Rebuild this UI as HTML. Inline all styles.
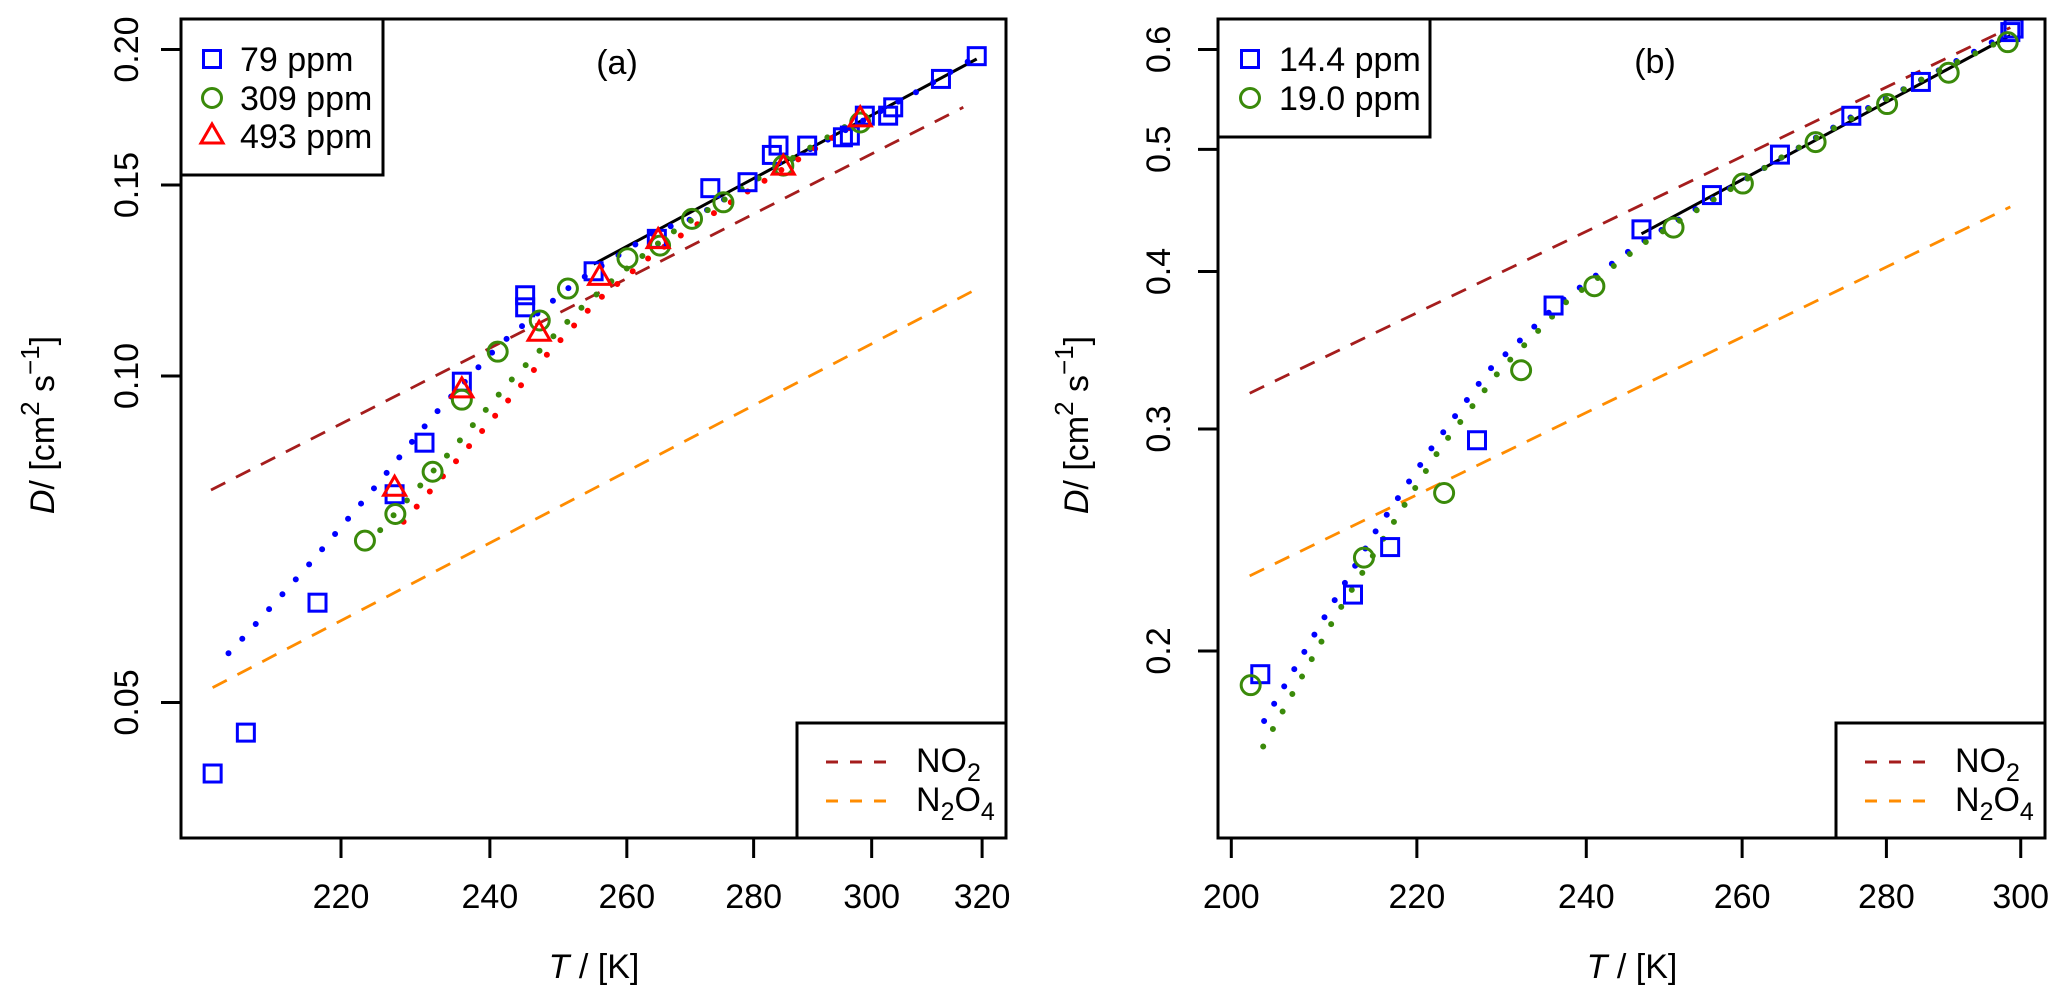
<!DOCTYPE html>
<html><head><meta charset="utf-8"><style>
html,body{margin:0;padding:0;background:#fff}
svg{display:block;font-family:"Liberation Sans",Arial,sans-serif}
</style></head><body>
<svg id="chart" width="2067" height="1007" viewBox="0 0 2067 1007" xmlns="http://www.w3.org/2000/svg">
<rect width="2067" height="1007" fill="#fff"/>
<g id="pa"></g>
<g id="pb"></g>
</svg>
<script>
// ---- Panel (a) data ----
const aSq_T=[204.1,208.1,217.0,227.0,231.0,236.1,245.0,245.0,255.0,264.6,273.0,279.0,283.0,284.1,288.9,295.0,296.2,298.8,302.9,303.8,312.4,319.0];
const aSq_D=[0.0430,0.0469,0.0618,0.0778,0.0868,0.0988,0.1187,0.1157,0.1249,0.1338,0.1490,0.1509,0.1599,0.1631,0.1631,0.1660,0.1666,0.1738,0.1738,0.1769,0.1879,0.1972];
const aCi_T=[223.1,227.1,232.1,236.1,241.1,247.1,251.2,260.1,265.1,270.1,275.1,284.9,298.0];
const aCi_D=[0.0705,0.0746,0.0816,0.0951,0.1053,0.1125,0.1204,0.1284,0.1319,0.1396,0.1446,0.1563,0.1713];
const aTr_T=[227.0,236.1,247.0,255.9,264.8,284.9,298.0];
const aTr_D=[0.0788,0.0971,0.1095,0.1233,0.1333,0.1558,0.1726];
const aMb_T=[206.0,208.1,216.0,224.1,232.3,241.3,252.1,264.5,270.4,282.7,293.9,308.9,318.4];
const aMb_D=[0.0555,0.0577,0.0671,0.0785,0.0921,0.1068,0.1217,0.1360,0.1398,0.1546,0.1668,0.1839,0.1963];
const aMg_T=[225.1,233.9,242.8,252.6,258.2,266.6,280.0,298.0];
const aMg_D=[0.0721,0.0842,0.0988,0.1147,0.1231,0.1352,0.1512,0.1730];
const aMr_T=[228.2,234.6,241.3,248.0,255.5,264.1,273.8,280.5,294.2,298.0];
const aMr_D=[0.0734,0.0824,0.0928,0.1044,0.1173,0.1296,0.1416,0.1498,0.1672,0.1713];
const aFit_T=[255.0,319.0];
const aFit_D=[0.1268,0.1960];
const aNO2_T=[203.9,316.5];
const aNO2_D=[0.0785,0.1769];
const aN2O4_T=[204.1,319.0];
const aN2O4_D=[0.0516,0.1203];
const aXTicks=[220,240,260,280,300,320];
const aYTicks=[0.05,0.10,0.15,0.20];
const aYLabels=["0.05","0.10","0.15","0.20"];
// ---- Panel (b) data ----
const bSq_T=[203.0,212.9,217.0,226.9,236.0,246.9,256.0,265.1,275.0,285.0,298.4,298.9];
const bSq_D=[0.1917,0.2217,0.2418,0.2939,0.3759,0.4320,0.4599,0.4952,0.5316,0.5655,0.6194,0.6234];
const bCi_T=[202.0,214.1,223.1,232.1,241.0,251.0,260.1,270.0,280.1,289.1,298.0];
const bCi_D=[0.1879,0.2372,0.2669,0.3340,0.3894,0.4334,0.4697,0.5066,0.5431,0.5751,0.6081];
const bMb_T=[203.4,209.9,215.4,221.5,228.2,236.6,246.4,254.4,265.0,275.3,286.0,297.9];
const bMb_D=[0.1760,0.2133,0.2489,0.2886,0.3335,0.3774,0.4200,0.4504,0.4912,0.5316,0.5714,0.6170];
const bMg_T=[203.3,211.1,216.8,222.7,229.6,237.7,247.5,265.5,286.0,298.0];
const bMg_D=[0.1680,0.2138,0.2491,0.2900,0.3340,0.3792,0.4224,0.4935,0.5714,0.6130];
const bFit_T=[246.9,298.4];
const bFit_D=[0.4285,0.6155];
const bNO2_T=[201.9,298.4];
const bNO2_D=[0.3203,0.6245];
const bN2O4_T=[201.9,298.4];
const bN2O4_D=[0.2294,0.4501];
const bXTicks=[200,220,240,260,280,300];
const bYTicks=[0.2,0.3,0.4,0.5,0.6];
const bYLabels=["0.2","0.3","0.4","0.5","0.6"];

const NS="http://www.w3.org/2000/svg";
const FS=34;
function mk(parent,tag,attrs){const e=document.createElementNS(NS,tag);for(const k in attrs)e.setAttribute(k,attrs[k]);parent.appendChild(e);return e;}

function panel(g,cfg){
  const X=t=>cfg.x0+cfg.kx*Math.log(t/cfg.t0);
  const Y=d=>cfg.y0-cfg.ky*Math.log(d/cfg.d0);
  const B=cfg.box;
  function line(T,D,color,dash,w,name){
    const p=T.map((t,i)=>(i?'L':'M')+X(t).toFixed(1)+' '+Y(D[i]).toFixed(1)).join(' ');
    const e=mk(g,'path',{d:p,fill:'none',stroke:color,'stroke-width':w});
    if(dash)e.setAttribute('stroke-dasharray',dash);
    
    
    return e;
  }
  function dots(T,D,color,name){
    const p=T.map((t,i)=>(i?'L':'M')+X(t).toFixed(1)+' '+Y(D[i]).toFixed(1)).join(' ');
    const e=mk(g,'path',{d:p,fill:'none',stroke:color,'stroke-width':6,'stroke-linecap':'round','stroke-dasharray':'0 20'});
    
    
  }
  cfg.lines.forEach(l=>line(l.T,l.D,l.c,l.dash,l.w,l.name));
  cfg.dots.forEach(l=>dots(l.T,l.D,l.c,l.name));
  cfg.markers.forEach(m=>{
    m.T.forEach((t,i)=>{
      const cx=X(t),cy=Y(m.D[i]);let e;
      if(m.shape==='sq')e=mk(g,'rect',{x:cx-8.5,y:cy-8.5,width:17,height:17,fill:'none',stroke:m.c,'stroke-width':3});
      else if(m.shape==='ci')e=mk(g,'circle',{cx:cx,cy:cy,r:9.5,fill:'none',stroke:m.c,'stroke-width':3});
      else e=mk(g,'path',{d:`M${cx-11} ${cy+7}L${cx+11} ${cy+7}L${cx} ${cy-12}Z`,fill:'none',stroke:m.c,'stroke-width':3});
      
      
    });
  });
  const bx=mk(g,'rect',{x:B[0],y:B[1],width:B[2]-B[0],height:B[3]-B[1],fill:'none',stroke:'#000','stroke-width':3});
  
  
  cfg.xt.forEach(t=>{
    const x=X(t);
    const tk=mk(g,'line',{x1:x,x2:x,y1:B[3],y2:B[3]+20,stroke:'#000','stroke-width':3});
    
    
    const tx=mk(g,'text',{x:x,y:908,'text-anchor':'middle','font-size':FS});
    tx.textContent=String(t);
    
    
  });
  cfg.yt.forEach((v,i)=>{
    const y=Y(v);
    const tk=mk(g,'line',{x1:B[0]-20,x2:B[0],y1:y,y2:y,stroke:'#000','stroke-width':3});
    
    
    const tx=mk(g,'text',{x:0,y:0,'text-anchor':'middle','font-size':FS,transform:`translate(${cfg.ylx},${y}) rotate(-90)`});
    tx.textContent=cfg.yl[i];
    
    
  });
}

function addText(g,html,attrs,name){
  const t=mk(g,'text',attrs);t.innerHTML=html;
  
  
  return t;
}

const pa=document.getElementById('pa'),pb=document.getElementById('pb');
panel(pa,{x0:341,kx:1711,t0:220,y0:376,ky:471,d0:0.1,box:[181,19,1006,838],xt:aXTicks,yt:aYTicks,yl:aYLabels,ylx:138,
  lines:[{T:aNO2_T,D:aNO2_D,c:'#a51d1d',dash:'16 12',w:2.8,name:'no2-reference-line'},
         {T:aN2O4_T,D:aN2O4_D,c:'#ff8c00',dash:'16 12',w:2.8,name:'n2o4-reference-line'},
         {T:aFit_T,D:aFit_D,c:'#000',dash:null,w:3,name:'fit-line'}],
  dots:[{T:aMb_T,D:aMb_D,c:'#0000ff',name:'model-79ppm'},{T:aMg_T,D:aMg_D,c:'#3a8a0a',name:'model-309ppm'},{T:aMr_T,D:aMr_D,c:'#ff0000',name:'model-493ppm'}],
  markers:[{T:aSq_T,D:aSq_D,c:'#0000ff',shape:'sq',name:'point-79ppm'},{T:aCi_T,D:aCi_D,c:'#3a8a0a',shape:'ci',name:'point-309ppm'},{T:aTr_T,D:aTr_D,c:'#ff0000',shape:'tr',name:'point-493ppm'}]});
panel(pb,{x0:1231.3,kx:1947,t0:200,y0:429,ky:547.5,d0:0.3,box:[1218,19,2045,838],xt:bXTicks,yt:bYTicks,yl:bYLabels,ylx:1170,
  lines:[{T:bNO2_T,D:bNO2_D,c:'#a51d1d',dash:'16 12',w:2.8,name:'no2-reference-line'},
         {T:bN2O4_T,D:bN2O4_D,c:'#ff8c00',dash:'16 12',w:2.8,name:'n2o4-reference-line'},
         {T:bFit_T,D:bFit_D,c:'#000',dash:null,w:3,name:'fit-line'}],
  dots:[{T:bMb_T,D:bMb_D,c:'#0000ff',name:'model-14.4ppm'},{T:bMg_T,D:bMg_D,c:'#3a8a0a',name:'model-19.0ppm'}],
  markers:[{T:bSq_T,D:bSq_D,c:'#0000ff',shape:'sq',name:'point-14.4ppm'},{T:bCi_T,D:bCi_D,c:'#3a8a0a',shape:'ci',name:'point-19.0ppm'}]});

addText(pa,'(a)',{x:617,y:74,'text-anchor':'middle','font-size':FS},'panel-a-label');
addText(pb,'(b)',{x:1655,y:73,'text-anchor':'middle','font-size':FS},'panel-b-label');
addText(pa,'<tspan font-style="italic">T</tspan> / [K]',{x:594,y:978,'text-anchor':'middle','font-size':FS},'x-axis-title');
addText(pb,'<tspan font-style="italic">T</tspan> / [K]',{x:1632,y:978,'text-anchor':'middle','font-size':FS},'x-axis-title');
const yt='<tspan font-style="italic">D</tspan>/ [cm<tspan dy="-15" font-size="26">2</tspan><tspan dy="15"> s</tspan><tspan dy="-15" font-size="26">−1</tspan><tspan dy="15">]</tspan>';
addText(pa,yt,{x:0,y:0,'text-anchor':'middle','font-size':FS,transform:'translate(54,425) rotate(-90)'},'y-axis-title');
addText(pb,yt,{x:0,y:0,'text-anchor':'middle','font-size':FS,transform:'translate(1088,425) rotate(-90)'},'y-axis-title');

function legendBox(g,x1,y1,x2,y2){const r=mk(g,'rect',{x:x1,y:y1,width:x2-x1,height:y2-y1,fill:'#fff',stroke:'#000','stroke-width':3});
  
  }
legendBox(pa,181,19,383,175);
[['sq','#0000ff','79 ppm',59],['ci','#3a8a0a','309 ppm',98],['tr','#ff0000','493 ppm',136]].forEach(e=>{
  let m;
  if(e[0]==='sq')m=mk(pa,'rect',{x:212-8.5,y:e[3]-8.5,width:17,height:17,fill:'none',stroke:e[1],'stroke-width':3});
  else if(e[0]==='ci')m=mk(pa,'circle',{cx:212,cy:e[3],r:9.5,fill:'none',stroke:e[1],'stroke-width':3});
  else m=mk(pa,'path',{d:`M201 ${e[3]+7}L223 ${e[3]+7}L212 ${e[3]-12}Z`,fill:'none',stroke:e[1],'stroke-width':3});
  
  
  addText(pa,e[2],{x:240,y:e[3]+12,'font-size':FS},'legend-entry');
});
legendBox(pb,1218,19,1430,137);
[['sq','#0000ff','14.4 ppm',59],['ci','#3a8a0a','19.0 ppm',98]].forEach(e=>{
  let m;
  if(e[0]==='sq')m=mk(pb,'rect',{x:1250-8.5,y:e[3]-8.5,width:17,height:17,fill:'none',stroke:e[1],'stroke-width':3});
  else m=mk(pb,'circle',{cx:1250,cy:e[3],r:9.5,fill:'none',stroke:e[1],'stroke-width':3});
  
  
  addText(pb,e[2],{x:1279,y:e[3]+12,'font-size':FS},'legend-entry');
});
function refLegend(g,x1,x2,lx1,lx2,tx){
  legendBox(g,x1,723,x2,838);
  [['#a51d1d','NO<tspan dy="9" font-size="25">2</tspan>',762],['#ff8c00','N<tspan dy="9" font-size="25">2</tspan><tspan dy="-9">O</tspan><tspan dy="9" font-size="25">4</tspan>',801]].forEach(e=>{
    const l=mk(g,'line',{x1:lx1,x2:lx2,y1:e[2],y2:e[2],stroke:e[0],'stroke-width':3,'stroke-dasharray':'12 12'});
    
    
    addText(g,e[1],{x:tx,y:e[2]+10,'font-size':FS},'legend-entry');
  });
}
refLegend(pa,797,1006,826,887,916);
refLegend(pb,1836,2045,1865,1927,1955);
</script>
</body></html>
